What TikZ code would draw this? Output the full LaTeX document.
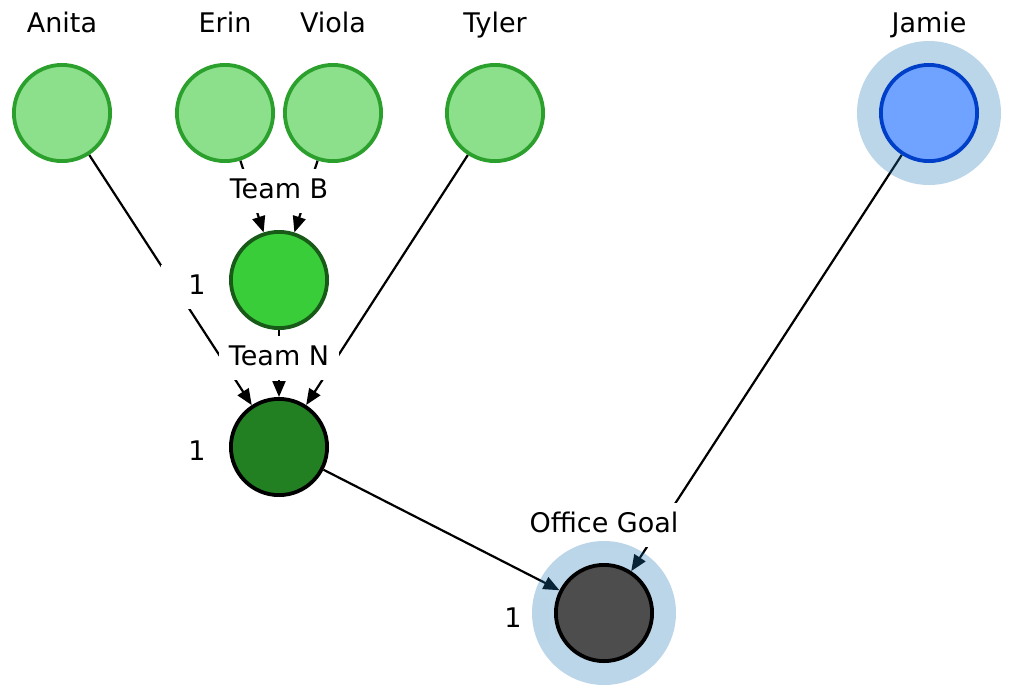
\documentclass[tikz,border=0pt]{standalone}
\usepackage{fontspec}
\setmainfont{DejaVu Sans}
\usetikzlibrary{arrows.meta}

\definecolor{leafgreen}{RGB}{140,224,140}
\definecolor{leafrim}{RGB}{44,160,44}
\definecolor{teamgreen}{RGB}{58,205,58}
\definecolor{teamrim}{RGB}{24,90,24}
\definecolor{nodegreen}{RGB}{34,128,34}
\definecolor{goalgray}{RGB}{77,77,77}
\definecolor{jamieblue}{RGB}{112,162,255}
\definecolor{jamierim}{RGB}{0,64,200}
\definecolor{haloblue}{RGB}{31,119,180}

\pgfdeclarelayer{edges}
\pgfsetlayers{edges,main}

\begin{document}
\begin{tikzpicture}[
		x=1pt,y=-1pt,
		every node/.style={font=\fontsize{27}{32}\selectfont,text height=20.5pt,text depth=6.5pt},
		disc/.style={circle,line width=3.8pt,minimum size=96.2pt,inner sep=0pt,text height=,text depth=},
		member/.style={disc,draw=leafrim,fill=leafgreen},
		tag/.style={fill=white,inner xsep=10pt,inner ysep=8.5pt},
		weight/.style={tag,minimum width=72pt},
		link/.style={-{Triangle[length=16pt,width=13pt]},line width=2.2pt},
		halo/.style={fill=haloblue,opacity=0.3}
	]
		\useasboundingbox (0,0) rectangle (1012,697);

		% labels and weights (under the discs)
		\node[tag] (teamblabel) at (279,191) {Team B};
		\node[tag] (teamnlabel) at (279,358) {Team N};
		\node[tag] (goallabel) at (604,525) {Office Goal};
		\node[weight] (anitaweight) at (197,287) {1};
		\node[weight] (teamnweight) at (197,453) {1};
		\node[weight] (goalweight) at (513,620) {1};

		% leaves
		\node[member] (anita) at (62,113) {};
		\node[member] (erin) at (225,113) {};
		\node[member] (viola) at (333,113) {};
		\node[member] (tyler) at (495,113) {};
		\fill[halo] (929,113) circle (72);
		\node[disc,draw=jamierim,fill=jamieblue] (jamie) at (929,113) {};

		\node (anitaname) at (62,25) {Anita};
		\node (erinname) at (225,25) {Erin};
		\node (violaname) at (333,25) {Viola};
		\node (tylername) at (495,25) {Tyler};
		\node (jamiename) at (929,25) {Jamie};

		% teams
		\node[disc,draw=teamrim,fill=teamgreen] (teamb) at (279,280) {};
		\node[disc,draw=black,fill=nodegreen] (teamn) at (279,447) {};
		\fill[halo] (604,613) circle (72);
		\node[disc,draw=black,fill=goalgray] (goal) at (604,613) {};

		\begin{pgfonlayer}{edges}
		\draw[link] (erin) -- (teamb);
		\draw[link] (viola) -- (teamb);
		\draw[link] (anita) -- (teamn);
		\draw[link] (teamb) -- (teamn);
		\draw[link] (tyler) -- (teamn);
		\draw[link] (teamn) -- (goal);
		\draw[link] (jamie) -- (goal);
		\end{pgfonlayer}
	\end{tikzpicture}
\end{document}
